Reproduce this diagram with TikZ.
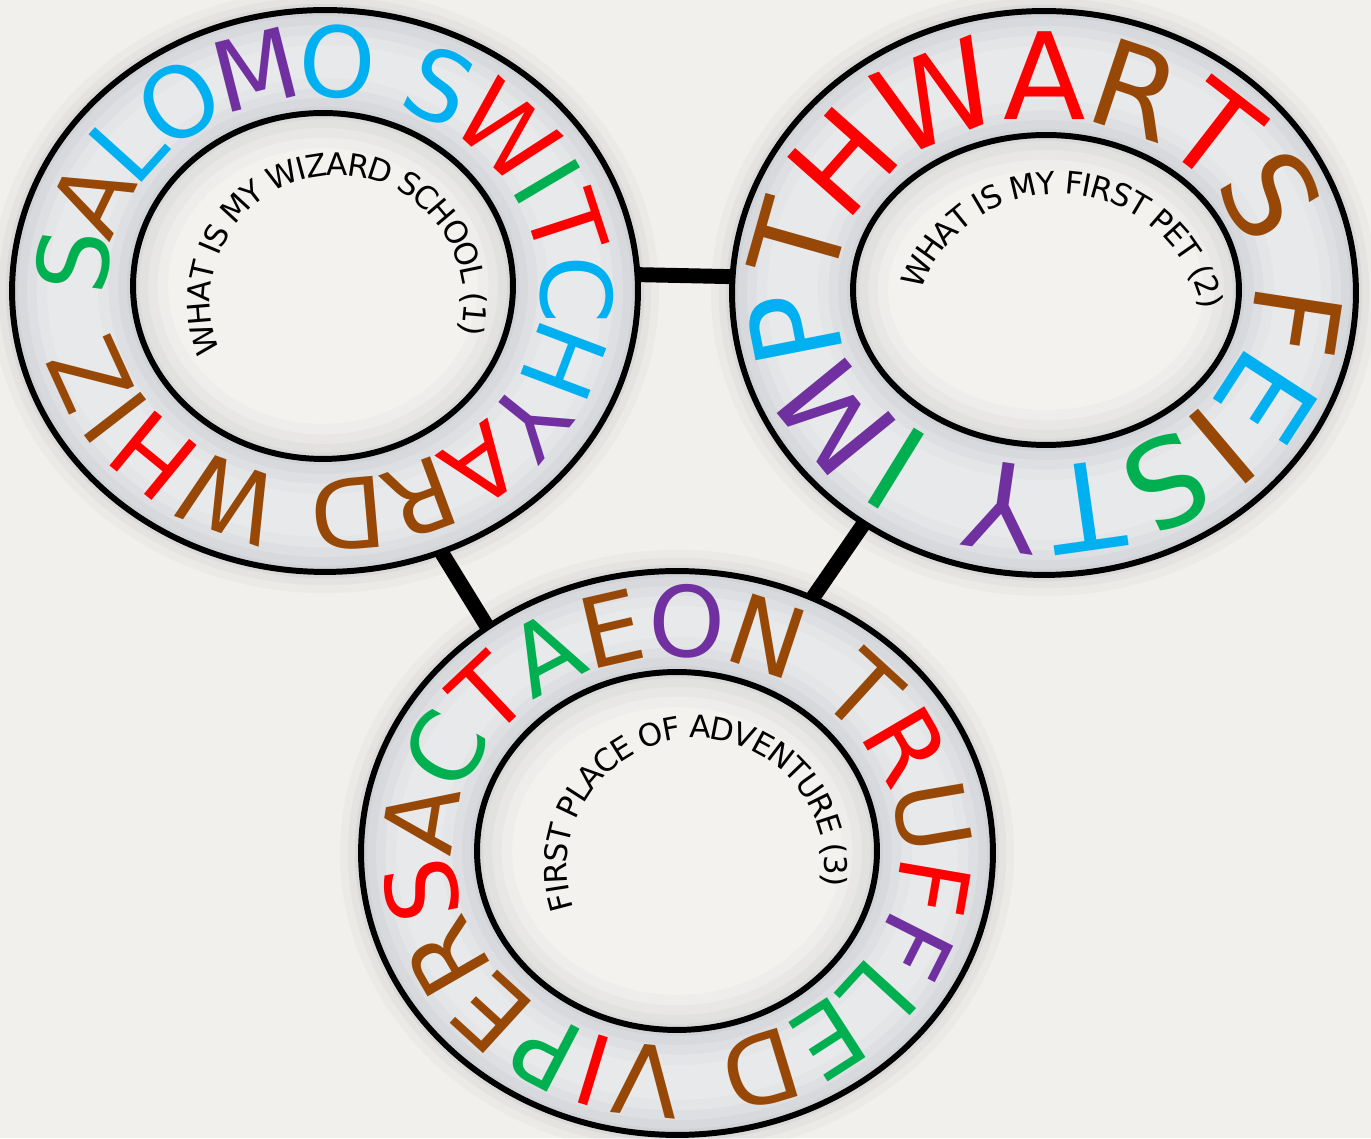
\documentclass[tikz,border=0pt]{standalone}
\usepackage{fontspec}
\setmainfont{DejaVu Sans}
\usepackage{xcolor}
\usepackage{tikz}
\usetikzlibrary{shapes.geometric,decorations.text}

\definecolor{paper}{RGB}{242,240,236}
\definecolor{bandgray}{RGB}{232,233,235}
\definecolor{holewhite}{RGB}{243,242,239}
\definecolor{rimshadow}{RGB}{55,65,85}
\definecolor{ringred}{RGB}{255,0,0}
\definecolor{ringbrown}{RGB}{152,72,6}
\definecolor{ringcyan}{RGB}{0,176,240}
\definecolor{ringgreen}{RGB}{0,176,80}
\definecolor{ringpurple}{RGB}{112,48,160}

\newcommand{\lred}{\color{ringred}}
\newcommand{\lbrown}{\color{ringbrown}}
\newcommand{\lcyan}{\color{ringcyan}}
\newcommand{\lgreen}{\color{ringgreen}}
\newcommand{\lpurple}{\color{ringpurple}}

\tikzset{
  ringline/.style={ellipse, draw, line width=3.4pt, inner sep=0pt, outer sep=0pt},
  halo/.style={preaction={draw=rimshadow, draw opacity=.03, line width=24pt},
               preaction={draw=rimshadow, draw opacity=.04, line width=15pt},
               preaction={draw=rimshadow, draw opacity=.05, line width=7pt}},
  softedge/.style={preaction={draw=rimshadow, draw opacity=.025, line width=40pt},
                   preaction={draw=rimshadow, draw opacity=.03, line width=28pt},
                   preaction={draw=rimshadow, draw opacity=.035, line width=17pt},
                   preaction={draw=rimshadow, draw opacity=.04, line width=7pt}},
  link/.style={draw, line width=8.5pt},
  ringtext/.style={decorate, decoration={text along path, text align={fit to path}, raise=#1}},
  holetext/.style={decorate, decoration={text along path, text align={center}, raise=-6.4pt}},
}

\begin{document}
\begin{tikzpicture}[x=0.02cm, y=0.02cm]
  \useasboundingbox (0,0) rectangle (1371,1138);
  \fill[paper] (0,0) rectangle (1371,1138);

  % ring centres
  \coordinate (schoolc) at (325,847);
  \coordinate (schoolh) at (323,852);
  \coordinate (petc) at (1044,845);
  \coordinate (peth) at (1046,848);
  \coordinate (placec) at (677,285);
  \coordinate (placeh) at (677,287);

  % soft shadow round each ring
  \path[halo] (schoolc) ellipse [x radius=313, y radius=281];
  \path[halo] (petc) ellipse [x radius=312, y radius=282];
  \path[halo] (placec) ellipse [x radius=316, y radius=282];

  % bands and holes
  \fill[bandgray] (schoolc) ellipse [x radius=313, y radius=281];
  \fill[holewhite] (schoolh) ellipse [x radius=190, y radius=173];
  \fill[bandgray] (petc) ellipse [x radius=312, y radius=282];
  \fill[holewhite] (peth) ellipse [x radius=193, y radius=155];
  \fill[bandgray] (placec) ellipse [x radius=316, y radius=282];
  \fill[holewhite] (placeh) ellipse [x radius=200, y radius=179];

  % shading along the edges
  \begin{scope}
    \clip (schoolc) ellipse [x radius=313, y radius=281];
    \path[softedge] (schoolc) ellipse [x radius=313, y radius=281];
    \path[softedge] (schoolh) ellipse [x radius=190, y radius=173];
  \end{scope}
  \begin{scope}
    \clip (petc) ellipse [x radius=312, y radius=282];
    \path[softedge] (petc) ellipse [x radius=312, y radius=282];
    \path[softedge] (peth) ellipse [x radius=193, y radius=155];
  \end{scope}
  \begin{scope}
    \clip (placec) ellipse [x radius=316, y radius=282];
    \path[softedge] (placec) ellipse [x radius=316, y radius=282];
    \path[softedge] (placeh) ellipse [x radius=200, y radius=179];
  \end{scope}

  % outlines
  \node[ringline, minimum width=12.52cm, minimum height=11.24cm] (school) at (schoolc) {};
  \node[ringline, minimum width=7.6cm, minimum height=6.92cm] (schoolin) at (schoolh) {};
  \node[ringline, minimum width=12.48cm, minimum height=11.28cm] (pet) at (petc) {};
  \node[ringline, minimum width=7.72cm, minimum height=6.2cm] (petin) at (peth) {};
  \node[ringline, minimum width=12.64cm, minimum height=11.28cm] (place) at (placec) {};
  \node[ringline, minimum width=8cm, minimum height=7.16cm] (placein) at (placeh) {};

  % links
  \draw[link] (school.3) -- (pet.177);
  \draw[link] (school.-66) -- (place.130);
  \draw[link] (pet.-128) -- (place.62);

  % ring words
  {\fontsize{55.6}{60}\selectfont
  \path[ringtext=-20.3pt, decoration={text={|\lgreen|S|\lbrown|A|\lcyan|LO|\lpurple|M|\lcyan|O S|\lred|W|\lgreen|I|\lred|T|\lcyan|CH|\lpurple|Y|\lred|A|\lbrown|RD W|\lred|H|\lbrown|IZ}}]
    (324,849.5) ++(181:253 and 227) arc[start angle=181, end angle=-166, x radius=253, y radius=227];
  \path[ringtext=-20.3pt, decoration={text={|\lbrown|A|\lgreen|C|\lred|T|\lgreen|A|\lbrown|E|\lpurple|O|\lbrown|N T|\lred|R|\lbrown|U|\lred|F|\lpurple|F|\lgreen|LE|\lbrown|D V|\lred|I|\lgreen|P|\lbrown|ER|\lred|S}}]
    (677,286) ++(180:259 and 230.5) arc[start angle=180, end angle=-178, x radius=259, y radius=230.5];
  }
  {\fontsize{68.6}{72}\selectfont
  \path[ringtext=-25pt, decoration={text={|\lbrown|T|\lred|HWA|\lbrown|R|\lred|T|\lbrown|S F|\lcyan|E|\lbrown|I|\lgreen|S|\lcyan|T|\lpurple|Y |\lgreen|I|\lpurple|M|\lcyan|P}}]
    (1044.5,845.5) ++(176:253.5 and 217) arc[start angle=176, end angle=-180, x radius=253.5, y radius=217];
  }

  % questions in the holes
  {\fontsize{17.7}{20}\selectfont
  \path[holetext, decoration={text={WHAT IS MY WIZARD SCHOOL (1)}}]
    (337,836) ++(205:138) arc[start angle=205, end angle=-17, radius=138];
  \path[holetext, decoration={text={WHAT IS MY FIRST PET (2)}}]
    (1059,798) ++(168:157.5) arc[start angle=168, end angle=4, radius=157.5];
  \path[holetext, decoration={text={FIRST PLACE OF ADVENTURE (3)}}]
    (696,271) ++(205:140) arc[start angle=205, end angle=-15, radius=140];
  }
\end{tikzpicture}
\end{document}
